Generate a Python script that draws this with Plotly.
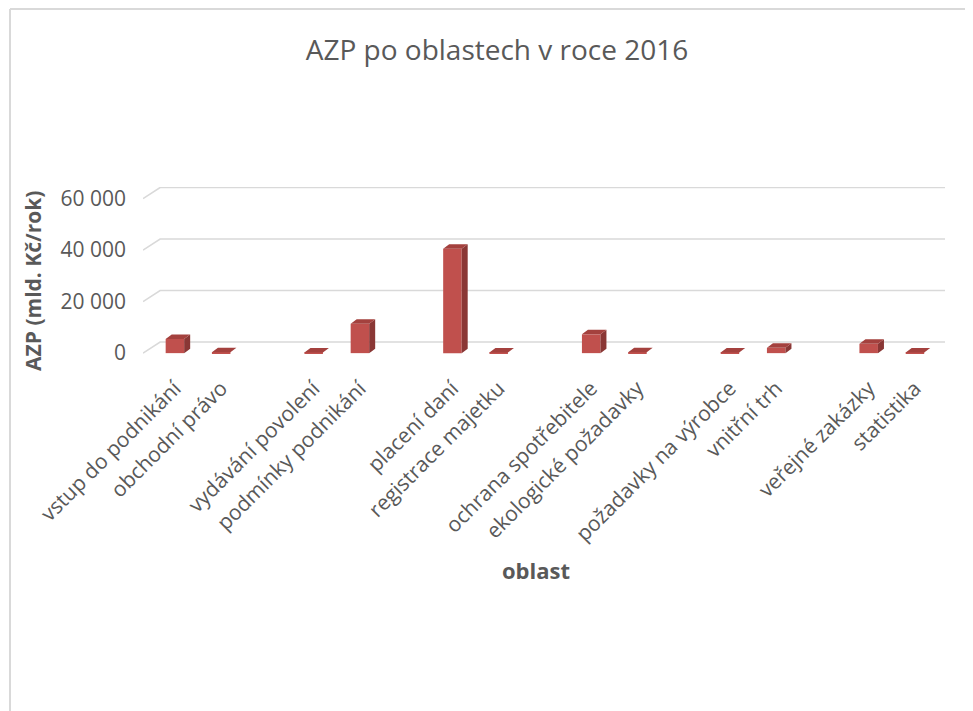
import plotly.graph_objects as go

# data (blank slots are empty gaps in the Excel chart)
categories = [
    "vstup do podnikání", "obchodní právo", "",
    "vydávání povolení", "podmínky podnikání", "",
    "placení daní", "registrace majetku", "",
    "ochrana spotřebitele", "ekologické požadavky", "",
    "požadavky na výrobce", "vnitřní trh", "",
    "veřejné zakázky", "statistika",
]
values = [
    5500, 300, None,
    250, 11400, None,
    40500, 200, None,
    7300, 300, None,
    200, 2050, None,
    3600, 250,
]
y_ticks = [0, 20000, 40000, 60000]

# the page body has an 8px margin, so the figure is a bit smaller than the window
OFF = 8
W, H = 973 - OFF, 711 - OFF
L, R, T, B = 135, 28, 179.4, 354.1
X_RANGE = [-0.69, 16.65]
Y_RANGE = [-1500, 64500]

FRONT = "#C0504D"
SIDE = "#8A3735"
TOP = "#A4413E"
GRID = "#D9D9D9"
TXT = "#595959"
FONT = "Open Sans"

bar_w = 0.4
dx, dy = 0.13, 1750  # fake 3D depth of each column
gdx, gdy = 0.37, 4300  # depth of the back wall

xs = list(range(len(categories)))

fig = go.Figure()

fig.add_trace(go.Bar(x=xs, y=values, width=bar_w, marker_color=FRONT,
                     marker_line_width=0, showlegend=False))

sx, sy, tx, ty = [], [], [], []
for x, v in zip(xs, values):
    if v is None:
        continue
    r = x + bar_w / 2
    l = x - bar_w / 2
    sx += [r, r + dx, r + dx, r, r, None]
    sy += [0, dy, v + dy, v, 0, None]
    tx += [l, r, r + dx, l + dx, l, None]
    ty += [v, v, v + dy, v + dy, v, None]
fig.add_trace(go.Scatter(x=sx, y=sy, fill="toself", fillcolor=SIDE, mode="lines",
                         line=dict(width=0), hoverinfo="skip", showlegend=False))
fig.add_trace(go.Scatter(x=tx, y=ty, fill="toself", fillcolor=TOP, mode="lines",
                         line=dict(width=0), hoverinfo="skip", showlegend=False))

# back-wall gridlines (with the slanted side-wall part), kept under the bars
shapes = []
for t in y_ticks:
    shapes.append(dict(
        type="path", xref="x", yref="y", layer="below",
        path=f"M {X_RANGE[0]} {t} L {X_RANGE[0] + gdx} {t + gdy} L {X_RANGE[1]} {t + gdy}",
        line=dict(color=GRID, width=1.6)))

pw = W - L - R
ph = H - T - B


def px(v):
    return (v - OFF - L) / pw


def py(v):
    return (H - B - (v - OFF)) / ph


shapes += [
    dict(type="line", xref="paper", yref="paper", x0=px(10), x1=px(10),
         y0=py(10), y1=py(800), line=dict(color=GRID, width=2)),
    dict(type="line", xref="paper", yref="paper", x0=px(10), x1=px(1000),
         y0=py(10), y1=py(10), line=dict(color=GRID, width=2)),
]

fig.update_layout(
    template="none",
    width=W, height=H,
    margin=dict(l=L, r=R, t=T, b=B, autoexpand=False),
    paper_bgcolor="white", plot_bgcolor="white",
    separators=", ",
    font=dict(family=FONT, color=TXT),
    showlegend=False,
    title=dict(text="AZP po oblastech v roce 2016", x=px(497), xanchor="center",
               xref="paper", y=1 - (50 - OFF) / H, yanchor="middle",
               font=dict(size=28, color=TXT, family=FONT)),
    shapes=shapes,
    annotations=[
        dict(text="<b>AZP (mld. Kč/rok)</b>", xref="paper", yref="paper",
             x=px(33), y=py(281), xanchor="center", yanchor="middle",
             textangle=-90, showarrow=False,
             font=dict(size=21, color=TXT, family=FONT)),
        dict(text="<b>oblast</b>", xref="paper", yref="paper",
             x=px(536), y=py(569), xanchor="center", yanchor="middle",
             showarrow=False,
             font=dict(size=22, color=TXT, family=FONT)),
    ],
)
fig.update_xaxes(range=X_RANGE, tickvals=xs, ticktext=categories, tickangle=-45,
                 showgrid=False, zeroline=False, showline=False, ticks="",
                 ticklabelstandoff=14, automargin=False,
                 tickfont=dict(size=21, color=TXT, family=FONT))
fig.update_yaxes(range=Y_RANGE, tickvals=y_ticks, tickformat=",d", showgrid=False,
                 zeroline=False, showline=False, ticks="",
                 ticklabelstandoff=16, automargin=False,
                 tickfont=dict(size=21, color=TXT, family=FONT))

fig.write_html("out.html")
